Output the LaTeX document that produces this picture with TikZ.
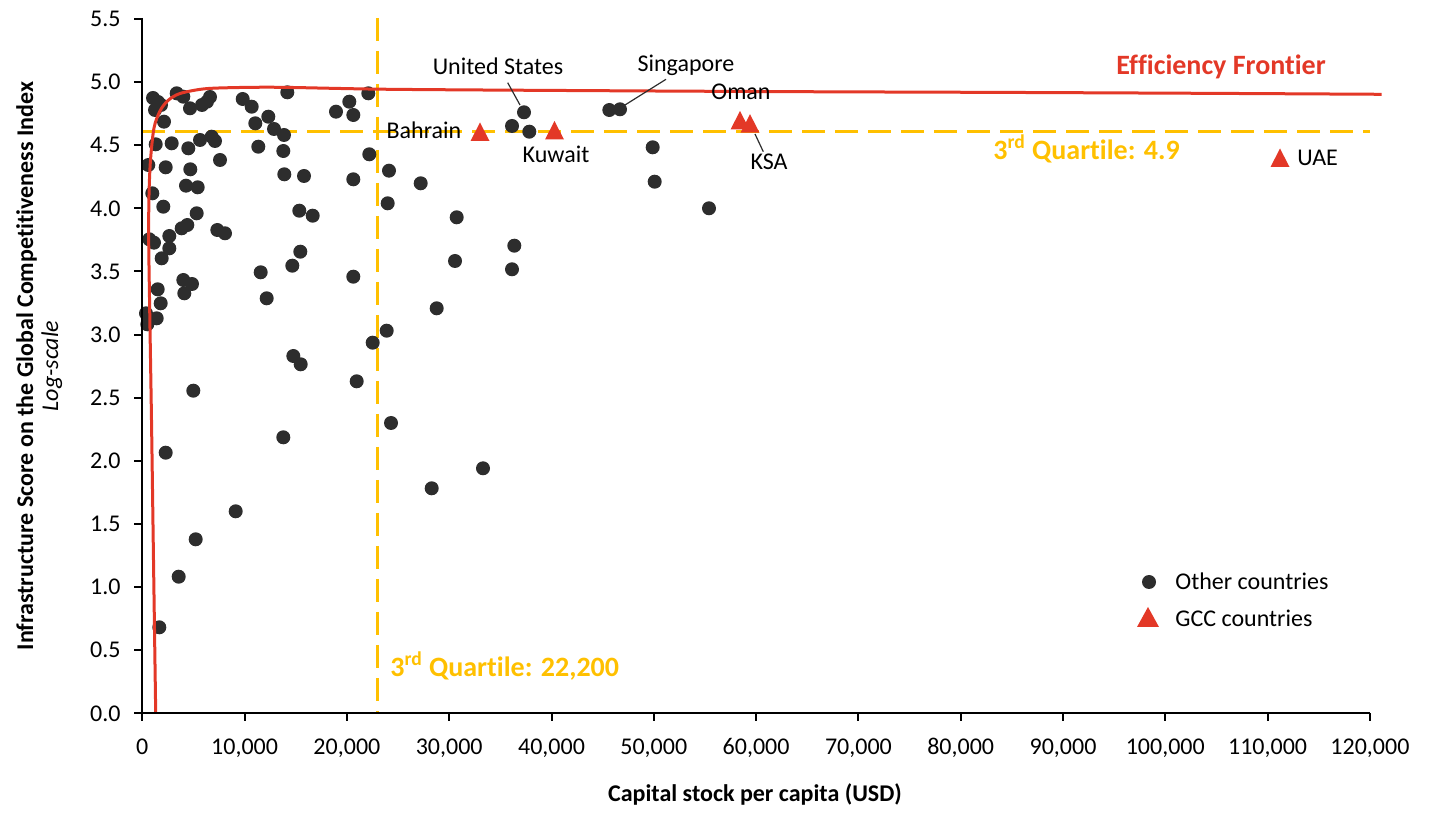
\documentclass[tikz,border=0pt]{standalone}
\usepackage{fontspec}
\setmainfont{Carlito}[Ligatures=NoCommon]
\definecolor{dotgray}{RGB}{45,45,45}
\definecolor{frontred}{RGB}{227,56,39}
\definecolor{quartgold}{RGB}{255,192,0}
\tikzset{
    ctrydot/.style={fill=dotgray},
    gcctri/.style={fill=frontred},
    leader/.style={draw=dotgray, line width=0.6pt},
    axisline/.style={line width=1pt, black},
    quartline/.style={quartgold, line width=1.5pt, dash pattern=on 11.5pt off 5pt},
    ticklbl/.style={inner sep=0pt, font=\fontsize{12}{14}\selectfont},
    ctrylbl/.style={inner sep=0pt, anchor=base, font=\fontsize{12}{14}\selectfont},
    axtitle/.style={inner sep=0pt, anchor=base, font=\bfseries\fontsize{12}{14}\selectfont},
    quartlbl/.style={inner sep=0pt, anchor=base west, text=quartgold, font=\bfseries\fontsize{14}{17}\selectfont},
}
\begin{document}
\begin{tikzpicture}[x=0.5pt,y=-0.5pt]
    \useasboundingbox (0,0) rectangle (1436,823);
    %% third quartiles
    \draw[quartline] (142,132) -- (1370,132);
    \draw[quartline] (377,18) -- (377,713);
    %% other countries
    \foreach \x/\y in {153/98,158/102,155/110,161/105,164/121.7,176.7/93.3,183.3/96.7,190/108.3,
            202/105,207/101.7,210/97,242.7/99,251.7/106.7,287.3/92.3,268.3/116.7,255.3/123.3,
            274/129,284/135,336/111.7,349.3/101.7,353.3/115,368.3/93.3,
            155.7/144.3,171.7/143.3,188.3/148.3,200/140,211.7/136.7,215/141,220/160,258.3/146.7,
            283.3/151,369.3/154.3,148.3/165,165.7/167.3,190.3/169.3,284.3/174.3,304/176,353.3/179.3,
            186/185.7,197.7/187.3,152.3/193.3,163.3/206.7,196.7/213.3,181.7/228.3,187.3/225,
            217.3/230,225/233.3,299.3/210.7,312.7/215.7,149.3/239.3,154/242.7,169.3/236,169.3/248.3,
            161.7/258.3,300.3/251.7,292.3/265.7,260.7/272.3,353.3/276.7,183.3/280,192/284,184.3/293.3,
            157.7/289.3,160.7/303.3,146/313.3,147.3/324.3,156.7/318.3,266.7/298.3,372.7/342.7,
            293.3/356,300.7/364.3,356.7/381.3,193.3/390.7,391/423,283.3/437.3,165.7/452.7,
            235.7/511.3,195.7/539.3,178.7/576.7,159.3/627.3,
            389/170.7,420.7/183.3,387.7/203.3,456.7/217.3,654.7/181.7,709/208.3,514.3/245.7,
            455/261,512/269.3,436.7/308.3,386.7/330.7,483/468.3,431.7/488.3,
            524/112.3,512/126,529.3/131.7,609.3/110,620/109.3,652.7/147.3}
        \fill[ctrydot] (\x,\y) circle[radius=3.5pt];
    %% efficiency frontier
    \draw[frontred, line width=1.5pt] plot[smooth, tension=0.5] coordinates {
        (155.7,713) (153.5,560) (151.5,420) (149.7,310) (148.7,240) (149,195) (150.5,160)
        (154,128) (160,111) (168,100.5) (180,93.5) (203,89) (230,87.7) (280,87.3)
        (390,89.3) (600,90.7) (800,91.7) (1000,92.4) (1200,93.3) (1381.7,94.3)};
    %% GCC countries
    \foreach \x/\y/\n in {480/132/bah,554.5/130.5/kuw,740/120.5/oma,750/123.7/ksa,1280/158/uae} {
        \coordinate (\n) at (\x,\y);
        \fill[gcctri] (\n) ++(-9.5,9) -- ++(19,0) -- ++(-9.5,-18.5) -- cycle;
    }
    %% axes
    \draw[axisline] (142,18) -- (142,713) -- (1370,713);
    \foreach \t [count=\i from 0] in {0.0,0.5,1.0,1.5,2.0,2.5,3.0,3.5,4.0,4.5,5.0,5.5} {
        \draw[axisline] (134,{713.4-\i*63.13}) -- (142,{713.4-\i*63.13});
        \node[ticklbl, anchor=east] (yt\i) at (121,{713.4-\i*63.13}) {\t};
    }
    \foreach \t [count=\i from 0] in {0,{10,000},{20,000},{30,000},{40,000},{50,000},{60,000},
            {70,000},{80,000},{90,000},{100,000},{110,000},{120,000}} {
        \draw[axisline] ({142.3+\i*102.3},713) -- ({142.3+\i*102.3},721);
        \node[ticklbl, anchor=base] (xt\i) at ({142.3+\i*102.3},754) {\t};
    }
    \node[axtitle] (xtitle) at (755,801) {Capital stock per capita (USD)};
    \node[axtitle, rotate=90] (ytitle) at (33,366) {Infrastructure Score on the Global Competitiveness Index};
    \node[ctrylbl, rotate=90, font=\itshape\fontsize{12}{14}\selectfont] (ylog) at (58,366) {Log-scale};
    %% labels
    \node[ctrylbl] (uslbl) at (498,74.3) {United States};
    \node[ctrylbl] (singlbl) at (686,71.7) {Singapore};
    \node[ctrylbl] (bahlbl) at (424,139) {Bahrain};
    \node[ctrylbl] (kuwlbl) at (556,162.3) {Kuwait};
    \node[ctrylbl] (omalbl) at (741,100) {Oman};
    \node[ctrylbl] (ksalbl) at (769,170) {KSA};
    \node[ctrylbl, anchor=base west] (uaelbl) at (1297,166) {UAE};
    \coordinate (usfoot) at (507.7,82.7);
    \coordinate (ustip) at (520,105);
    \coordinate (singfoot) at (666,79.3);
    \coordinate (singtip) at (625,105);
    \coordinate (ksafoot) at (763.3,151.7);
    \coordinate (ksatip) at (755,134);
    \draw[leader] (usfoot) -- (ustip);
    \draw[leader] (singfoot) -- (singtip);
    \draw[leader] (ksafoot) -- (ksatip);
    \node[inner sep=0pt, anchor=base, text=frontred, font=\bfseries\fontsize{14}{17}\selectfont] (frontlbl)
        at (1221,74.3) {Efficiency Frontier};
    \node[quartlbl] (q4lbl) at (993,159.3) {3\textsuperscript{rd} Quartile: 4.9};
    \node[quartlbl] (q22lbl) at (390,676) {3\textsuperscript{rd} Quartile: 22,200};
    %% legend
    \fill[ctrydot] (1149,582) circle[radius=3.5pt];
    \node[ctrylbl, anchor=base west] (legother) at (1175,589) {Other countries};
    \fill[gcctri] (1148,617) ++(-11,10) -- ++(22,0) -- ++(-11,-20) -- cycle;
    \node[ctrylbl, anchor=base west] (leggcc) at (1175,626) {GCC countries};
\end{tikzpicture}
\end{document}
